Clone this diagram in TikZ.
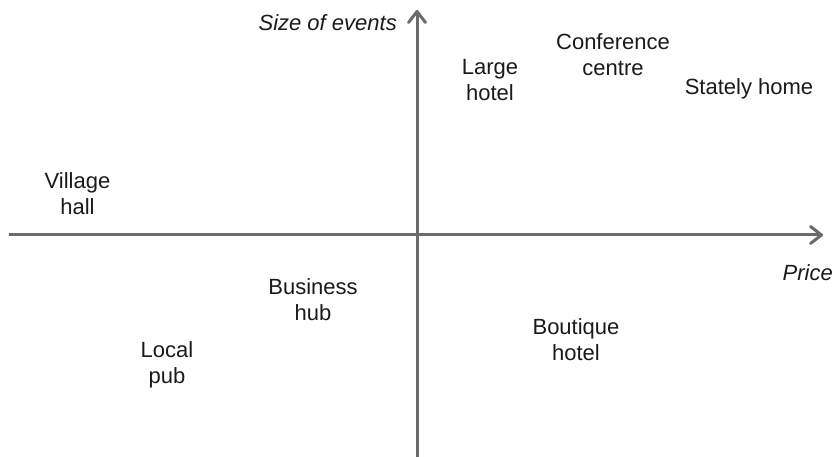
\documentclass[tikz,border=0pt]{standalone}
\usepackage{fontspec}
\setmainfont{Liberation Sans}
\usetikzlibrary{arrows.meta}
\definecolor{axisgray}{HTML}{6B6B6B}
\definecolor{labelink}{HTML}{1A1A1A}
\begin{document}
\begin{tikzpicture}[x=1pt,y=-1pt,
  axisline/.style={draw=axisgray,line width=3pt,
    -{Straight Barb[length=11pt,width=17pt,round]}},
  venue/.style={inner sep=0pt,align=center,text=labelink,
    font=\fontsize{22}{26}\selectfont},
  axislabel/.style={venue,font=\fontsize{22}{26}\selectfont\itshape}]
\useasboundingbox (0,0) rectangle (836,457);
% axes
\coordinate (xstart) at (9,235);
\coordinate (xend) at (823,235);
\coordinate (ystart) at (417,457);
\coordinate (yend) at (417,10);
\draw[axisline] (xstart) -- (xend);
\draw[axisline] (ystart) -- (yend);
% axis titles
\node[axislabel,anchor=base east] (ytitle) at (397,31) {Size of events};
\node[axislabel,anchor=base east] (xtitle) at (833,281) {Price};
% venues (base anchor = baseline of the last line)
\node[venue,anchor=base] (large) at (490,101) {Large\\hotel};
\node[venue,anchor=base] (conf) at (613,76) {Conference\\centre};
\node[venue,anchor=base] (stately) at (749,95) {Stately home};
\node[venue,anchor=base] (village) at (77.5,215) {Village\\hall};
\node[venue,anchor=base] (business) at (313,321) {Business\\hub};
\node[venue,anchor=base] (pub) at (167,383) {Local\\pub};
\node[venue,anchor=base] (boutique) at (576,360) {Boutique\\hotel};
\end{tikzpicture}
\end{document}
